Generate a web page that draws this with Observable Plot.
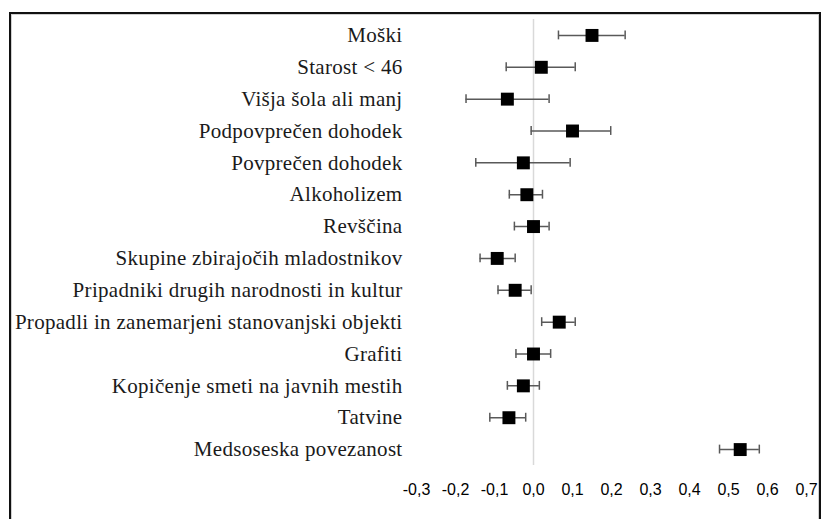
<!DOCTYPE html>
<html>
<head>
<meta charset="utf-8">
<script src="https://cdn.jsdelivr.net/npm/d3@7"></script>
<script src="https://cdn.jsdelivr.net/npm/@observablehq/plot@0.6"></script>
<style>
  html, body { margin: 0; padding: 0; background: #fff; width: 822px; height: 519px; overflow: hidden; }
  #chart { position: absolute; left: 0; top: 0; }
  #frame { position: absolute; left: 9px; top: 12px; width: 808px; height: 560px;
           border: 2px solid #111; box-shadow: inset 1px 1px 0 #d0d0d0, inset -1px 0 0 #d0d0d0; pointer-events: none; }
</style>
</head>
<body>
<div id="chart"></div>
<div id="frame"></div>
<script>
const labels = [
  "Moški",
  "Starost < 46",
  "Višja šola ali manj",
  "Podpovprečen dohodek",
  "Povprečen dohodek",
  "Alkoholizem",
  "Revščina",
  "Skupine zbirajočih mladostnikov",
  "Pripadniki drugih narodnosti in kultur",
  "Propadli in zanemarjeni stanovanjski objekti",
  "Grafiti",
  "Kopičenje smeti na javnih mestih",
  "Tatvine",
  "Medsoseska povezanost"
];
const estimates = [0.150, 0.020, -0.067, 0.100, -0.026, -0.017, 0.000, -0.093, -0.047, 0.066, 0.000, -0.026, -0.063, 0.530];
const lower     = [0.064, -0.070, -0.173, -0.006, -0.148, -0.062, -0.049, -0.137, -0.091, 0.021, -0.045, -0.067, -0.112, 0.477];
const upper     = [0.235, 0.107, 0.040, 0.198, 0.094, 0.023, 0.040, -0.047, -0.006, 0.107, 0.044, 0.015, -0.020, 0.579];
const xTicks = [-0.3, -0.2, -0.1, 0.0, 0.1, 0.2, 0.3, 0.4, 0.5, 0.6, 0.7];

const data = labels.map((l, i) => ({label: l, est: estimates[i], lo: lower[i], hi: upper[i]}));
const fmt = d => d.toFixed(1).replace(".", ",");

const chart = Plot.plot({
  width: 822,
  height: 519,
  marginLeft: 416,
  marginRight: 16,
  marginTop: 19,
  marginBottom: 54,
  style: {background: "transparent", overflow: "visible"},
  x: {domain: [-0.3, 0.7], ticks: xTicks, tickFormat: fmt, label: null},
  y: {type: "band", domain: labels, label: null, paddingInner: 0, paddingOuter: 0, round: false},
  marks: [
    Plot.ruleX([0], {stroke: "#d9d9d9", strokeWidth: 1.5}),
    Plot.ruleY(data, {y: "label", x1: "lo", x2: "hi", stroke: "#595959", strokeWidth: 1.5}),
    Plot.tickX(data, {y: "label", x: "lo", stroke: "#595959", strokeWidth: 1.5, insetTop: 11.5, insetBottom: 11.5}),
    Plot.tickX(data, {y: "label", x: "hi", stroke: "#595959", strokeWidth: 1.5, insetTop: 11.5, insetBottom: 11.5}),
    Plot.dot(data, {y: "label", x: "est", symbol: "square", r: 7.3, fill: "#000", stroke: "none"}),
    Plot.axisY({tickSize: 0, tickPadding: 14, fontSize: 21, fontFamily: "Liberation Serif", label: null}),
    Plot.axisX({ticks: xTicks, tickFormat: fmt, tickSize: 0, tickPadding: 18, fontSize: 16, fontFamily: "Liberation Sans", label: null})
  ]
});
chart.querySelectorAll("g[aria-label='y-axis tick label']").forEach(g => { g.setAttribute("fill", "#1a1a1a"); g.style.letterSpacing = "0.3px"; });
document.getElementById("chart").appendChild(chart);
</script>
</body>
</html>
